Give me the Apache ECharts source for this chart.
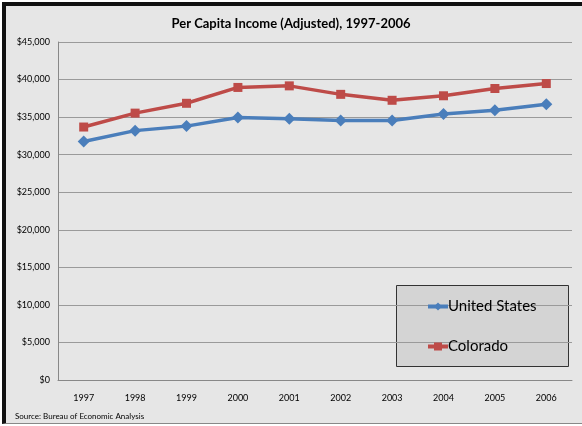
<!DOCTYPE html>
<html><head><meta charset="utf-8">
<script src="https://cdn.jsdelivr.net/npm/echarts@6/dist/echarts.min.js"></script>
<style>
html,body{margin:0;padding:0;background:#fff;}
#frame{position:absolute;left:2px;top:2px;width:580px;height:422px;background:#e6e6e6;border-left:4px solid #111;border-top:4px solid #111;border-bottom:1px solid #888;box-sizing:border-box;}
#c{position:absolute;left:0;top:0;width:582px;height:426px;}
</style></head>
<body>
<div id="frame"></div>
<div id="c"></div>
<script>
const years = ['1997','1998','1999','2000','2001','2002','2003','2004','2005','2006'];
const unitedStates = [31750, 33200, 33800, 34950, 34780, 34550, 34550, 35400, 35900, 36700];
const colorado = [33680, 35530, 36840, 38950, 39160, 38030, 37240, 37840, 38810, 39470];
const yTicks = [0, 5000, 10000, 15000, 20000, 25000, 30000, 35000, 40000, 45000];

const chart = echarts.init(document.getElementById('c'));
const font = 'Lato, "Open Sans", sans-serif';
chart.setOption({
  animation: false,
  backgroundColor: 'transparent',
  title: {
    text: 'Per Capita Income (Adjusted), 1997-2006',
    left: 'center', top: 12,
    textStyle: {fontFamily: font, fontSize: 13, fontWeight: 'bold', color: '#000'}
  },
  grid: {left: 58, right: 10, top: 42, bottom: 46},
  xAxis: {
    type: 'category', data: years, boundaryGap: true,
    axisLine: {lineStyle: {color: '#888'}},
    axisTick: {show: false},
    axisLabel: {fontFamily: font, fontSize: 9, color: '#000', margin: 14}
  },
  yAxis: {
    type: 'value', min: yTicks[0], max: yTicks[yTicks.length-1], interval: 5000,
    axisLine: {show: true, lineStyle: {color: '#888'}},
    axisTick: {show: false},
    splitLine: {lineStyle: {color: '#9a9a9a'}},
    axisLabel: {fontFamily: font, fontSize: 9, color: '#000', margin: 8,
      formatter: v => '$' + v.toLocaleString('en-US')}
  },
  legend: {
    orient: 'vertical', left: 421, top: 294, itemGap: 25,
    itemWidth: 20, itemHeight: 10,
    lineStyle: {width: 4},
    textStyle: {fontFamily: font, fontSize: 15, color: '#000', padding: [0,0,0,-5]},
    data: ['United States', 'Colorado']
  },
  graphic: [
    {type: 'rect', left: 396, top: 285, shape: {width: 172, height: 81}, z: 0,
     style: {fill: '#d4d4d4', stroke: '#333', lineWidth: 1}},
    {type: 'text', left: 15, top: 412, z: 10,
     style: {text: 'Source: Bureau of Economic Analysis', fontFamily: font, fontSize: 8, fill: '#000'}}
  ],
  series: [
    {name: 'United States', type: 'line', data: unitedStates, symbol: 'diamond', symbolSize: 12,
     lineStyle: {color: '#4a7ebb', width: 3.5}, itemStyle: {color: '#4a7ebb'}, z: 3},
    {name: 'Colorado', type: 'line', data: colorado, symbol: 'rect', symbolSize: 9,
     lineStyle: {color: '#be4b48', width: 3.5}, itemStyle: {color: '#be4b48'}, z: 3}
  ]
});
</script>
</body></html>
